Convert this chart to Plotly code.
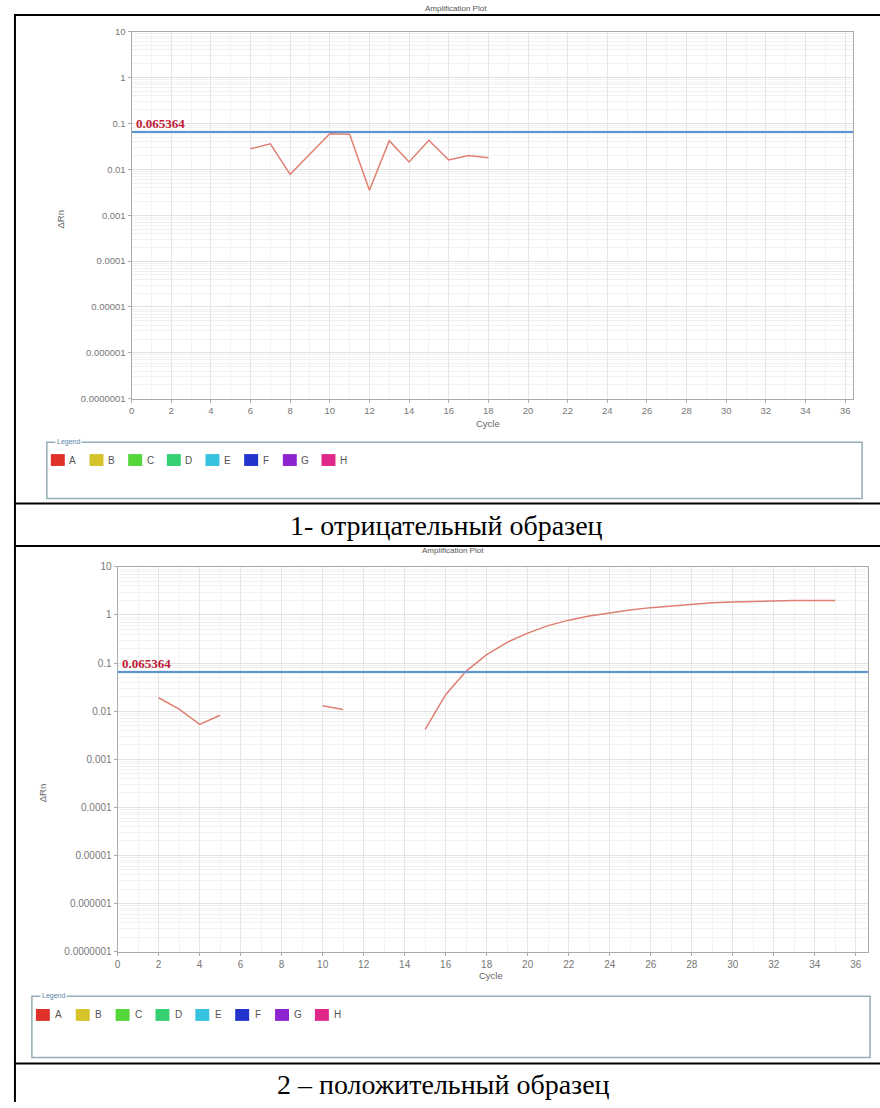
import plotly.graph_objects as go
import numpy as np

W, H = 880, 1108

# ---------------- data ----------------
chart_title = "Amplification Plot"
y_title = "ΔRn"
x_title = "Cycle"
threshold = 0.065364
threshold_text = "0.065364"

neg_cycles = [6, 7, 8, 10, 11, 12, 13, 14, 15, 16, 17, 18]
neg_drn = [0.028, 0.036, 0.0078, 0.060, 0.058, 0.0035, 0.042, 0.0145, 0.043, 0.016, 0.020, 0.0178]

pos_cycles = list(range(2, 36))
pos_drn = [0.019, 0.011, 0.0053, 0.0082,          # 2-5
           None, None, None, None,                # 6-9
           0.013, 0.0108,                         # 10-11
           None, None, None,                      # 12-14
           0.0042, 0.022, 0.068, 0.15, 0.27, 0.42, 0.60, 0.78, 0.95, 1.10,   # 15-24
           1.27, 1.42, 1.55, 1.68, 1.80, 1.86, 1.92, 1.97, 2.0, 2.0, 2.0]   # 25-35

y_tickvals = [1e-7, 1e-6, 1e-5, 1e-4, 1e-3, 1e-2, 1e-1, 1, 10]
y_ticktext = ["0.0000001", "0.000001", "0.00001", "0.0001", "0.001", "0.01", "0.1", "1", "10"]
x_tickvals = list(range(0, 37, 2))

legend_labels = ["A", "B", "C", "D", "E", "F", "G", "H"]
legend_colors = ["#e0302a", "#d6c22a", "#52d63a", "#34d072", "#35c3e0", "#2234cc", "#8e24d0", "#e0288a"]

captions = ["1- отрицательный образец", "2 – положительный образец"]

# ---------------- helpers ----------------
def PX(x):
    return x / W

def PY(y):
    return 1 - y / H

fig = go.Figure()

# panel geometry (pixels)
panels = [
    dict(x0=129, x1=853, y0=26, y1=397, xmax=36.4, fs=9.5,
         cycles=neg_cycles, vals=neg_drn,
         title_xy=(455, 3), ylab_xy=(58, 215), xlab_xy=(487, 422),
         leg_box=(44, 441, 862, 498), leg_y=459, leg_x0=48, leg_dx=38.8, leg_lab=22),
    dict(x0=115, x1=868, y0=567, y1=956, xmax=36.6, fs=10,
         cycles=pos_cycles, vals=pos_drn,
         title_xy=(452, 550), ylab_xy=(40, 795), xlab_xy=(490, 980),
         leg_box=(29, 1001, 870, 1063), leg_y=1020, leg_x0=33, leg_dx=40, leg_lab=23),
]

minor_vals = [m * 10.0 ** e for e in range(-7, 1) for m in range(2, 10)]

shapes = []
annotations = []

for i, p in enumerate(panels):
    n = "" if i == 0 else str(i + 1)
    xa = "x" + n
    ya = "y" + n
    fig.add_trace(go.Scatter(x=p["cycles"], y=p["vals"], mode="lines",
                             line=dict(color="#df7f72", width=1.5),
                             connectgaps=False, showlegend=False,
                             xaxis=xa, yaxis=ya))
    fig.add_trace(go.Scatter(x=[0, 40], y=[threshold, threshold], mode="lines",
                             line=dict(color="#5b95d6", width=2),
                             showlegend=False, xaxis=xa, yaxis=ya))
    axis_font = dict(family="Liberation Sans", size=p["fs"], color="#777")
    fig.update_layout(**{
        "xaxis" + n: dict(domain=[PX(p["x0"]), PX(p["x1"])], range=[0, p["xmax"]],
                          anchor=ya, tickvals=x_tickvals, ticks="outside", ticklen=3,
                          tickcolor="#aaa", showline=True, linecolor="#aaa", mirror=True,
                          showgrid=True, gridcolor="#e6e6e6", zeroline=False,
                          minor=dict(dtick=1, showgrid=True, gridcolor="#f3f3f3"),
                          tickfont=axis_font),
        "yaxis" + n: dict(domain=[PY(p["y1"]), PY(p["y0"])], type="log", range=[-7, 1],
                          anchor=xa, tickvals=y_tickvals, ticktext=y_ticktext,
                          ticks="outside", ticklen=3, tickcolor="#aaa",
                          showline=True, linecolor="#aaa", mirror=True,
                          showgrid=True, gridcolor="#e2e2e2", zeroline=False,
                          minor=dict(tickvals=minor_vals, showgrid=True, gridcolor="#f1f1f1"),
                          tickfont=axis_font),
    })
    # threshold label
    annotations.append(dict(x=0.1, y=np.log10(threshold), xref=xa, yref=ya,
                            text="<b>" + threshold_text + "</b>", showarrow=False,
                            xanchor="left", yanchor="bottom", yshift=-1,
                            font=dict(family="Liberation Serif", size=13, color="#c01a35")))
    # titles
    tx, ty = p["title_xy"]
    annotations.append(dict(x=PX(tx), y=PY(ty), xref="paper", yref="paper", text=chart_title,
                            showarrow=False, xanchor="center", yanchor="middle",
                            font=dict(family="Liberation Sans", size=8, color="#555")))
    lx, ly = p["ylab_xy"]
    annotations.append(dict(x=PX(lx), y=PY(ly), xref="paper", yref="paper", text=y_title,
                            showarrow=False, textangle=-90, xanchor="center", yanchor="middle",
                            font=dict(family="Liberation Sans", size=9.5, color="#666")))
    cx, cy = p["xlab_xy"]
    annotations.append(dict(x=PX(cx), y=PY(cy), xref="paper", yref="paper", text=x_title,
                            showarrow=False, xanchor="center", yanchor="middle",
                            font=dict(family="Liberation Sans", size=9.5, color="#666")))
    # legend box
    bx0, by0, bx1, by1 = p["leg_box"]
    shapes.append(dict(type="rect", xref="paper", yref="paper",
                       x0=PX(bx0), x1=PX(bx1), y0=PY(by1), y1=PY(by0),
                       line=dict(color="#94aeb6", width=1.5), fillcolor="rgba(0,0,0,0)"))
    annotations.append(dict(x=PX(bx0 + 8), y=PY(by0), xref="paper", yref="paper", text="Legend",
                            showarrow=False, xanchor="left", yanchor="middle", bgcolor="white",
                            font=dict(family="Liberation Sans", size=7, color="#5b84a8")))
    for k, (lab, col) in enumerate(zip(legend_labels, legend_colors)):
        sx = p["leg_x0"] + k * p["leg_dx"]
        shapes.append(dict(type="rect", xref="paper", yref="paper",
                           x0=PX(sx), x1=PX(sx + 14), y0=PY(p["leg_y"] + 6), y1=PY(p["leg_y"] - 6),
                           line=dict(width=0), fillcolor=col))
        annotations.append(dict(x=PX(sx + p["leg_lab"]), y=PY(p["leg_y"]), xref="paper", yref="paper",
                                text=lab, showarrow=False, xanchor="center", yanchor="middle",
                                font=dict(family="Liberation Sans", size=10, color="#555")))

# captions
annotations.append(dict(x=PX(445), y=PY(525), xref="paper", yref="paper", text=captions[0],
                        showarrow=False, xanchor="center", yanchor="middle",
                        font=dict(family="Liberation Serif", size=28, color="black")))
annotations.append(dict(x=PX(442), y=PY(1090), xref="paper", yref="paper", text=captions[1],
                        showarrow=False, xanchor="center", yanchor="middle",
                        font=dict(family="Liberation Serif", size=28, color="black")))

# table borders
def hline(y, x0=12, x1=880):
    shapes.append(dict(type="line", xref="paper", yref="paper", x0=PX(x0), x1=PX(x1),
                       y0=PY(y), y1=PY(y), line=dict(color="black", width=2)))

def vline(x, y0=8, y1=1108):
    shapes.append(dict(type="line", xref="paper", yref="paper", x0=PX(x), x1=PX(x),
                       y0=PY(y0), y1=PY(y1), line=dict(color="black", width=2)))

hline(9)
hline(503)
hline(546)
hline(1069)
vline(12)

fig.update_layout(width=W, height=H, margin=dict(l=0, r=0, t=0, b=0),
                  paper_bgcolor="white", plot_bgcolor="white",
                  shapes=shapes, annotations=annotations, showlegend=False)

fig.write_html("out.html")
